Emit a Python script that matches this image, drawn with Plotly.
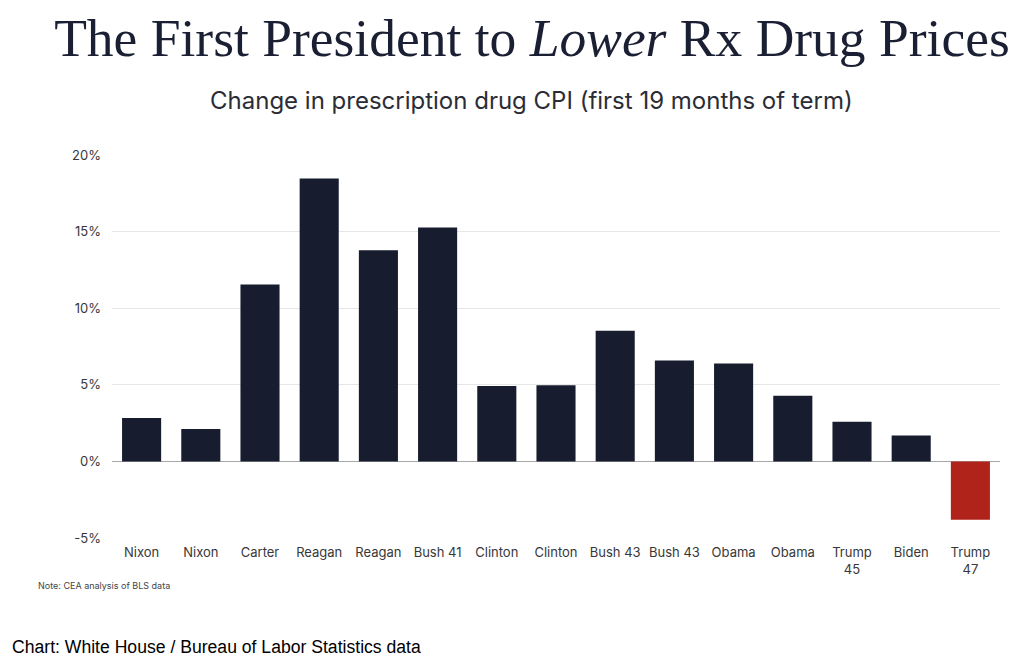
import plotly.graph_objects as go

presidents = ["Nixon", "Nixon", "Carter", "Reagan", "Reagan", "Bush 41", "Clinton", "Clinton",
              "Bush 43", "Bush 43", "Obama", "Obama", "Trump<br>45", "Biden", "Trump<br>47"]
cpi_change = [2.83, 2.11, 11.55, 18.46, 13.79, 15.26, 4.92, 4.97,
              8.53, 6.58, 6.39, 4.29, 2.58, 1.69, -3.81]
bar_colors = ["#171c2f"] * 14 + ["#b0231b"]
tick_vals = [-5, 0, 5, 10, 15, 20]
tick_text = ["-5%", "0%", "5%", "10%", "15%", "20%"]

x_idx = list(range(len(presidents)))

fig = go.Figure(go.Bar(
    x=x_idx, y=cpi_change,
    marker=dict(color=bar_colors, line=dict(width=0)),
    width=0.66,
    hoverinfo="skip",
))

fig.update_layout(
    width=1016, height=654,
    margin=dict(l=104, r=24, t=147, b=124),
    paper_bgcolor="white", plot_bgcolor="white",
    showlegend=False,
    title=dict(
        text="The First President to <i>Lower</i> Rx Drug Prices",
        x=0.5157, xanchor="center", xref="container",
        y=0.955, yanchor="middle", yref="container",
        font=dict(family="Liberation Serif", size=53.5, color="#1a1f33"),
    ),
    xaxis=dict(
        tickvals=x_idx, ticktext=presidents,
        range=[-0.5, len(presidents) - 0.5],
        showgrid=False, zeroline=False, showline=False,
        tickfont=dict(family="Inter", size=13, color="#383838"),
        ticks="", ticklabelstandoff=5, fixedrange=True,
    ),
    yaxis=dict(
        range=[-5, 20], tickvals=tick_vals, ticktext=tick_text,
        showgrid=True, gridcolor="#e6e6e6", gridwidth=1,
        zeroline=True, zerolinecolor="#a8a8a8", zerolinewidth=1,
        showline=False, ticks="", ticklabelstandoff=10,
        tickfont=dict(family="Inter", size=13, color="#383838"),
        fixedrange=True,
    ),
    annotations=[
        dict(text="Change in prescription drug CPI (first 19 months of term)",
             xref="paper", yref="paper", x=0.472, y=1.141,
             xanchor="center", yanchor="middle", showarrow=False,
             font=dict(family="Inter", size=24, color="#2a2d36")),
        dict(text="Note: CEA analysis of BLS data",
             xref="paper", yref="paper", x=-0.0856, y=-0.123,
             xanchor="left", yanchor="middle", showarrow=False,
             font=dict(family="Inter", size=9, color="#444444")),
        dict(text="Chart: White House / Bureau of Labor Statistics data",
             xref="paper", yref="paper", x=-0.1149, y=-0.285,
             xanchor="left", yanchor="middle", showarrow=False,
             font=dict(family="Liberation Sans", size=17.6, color="#000000")),
    ],
)

fig.write_html("out.html")
